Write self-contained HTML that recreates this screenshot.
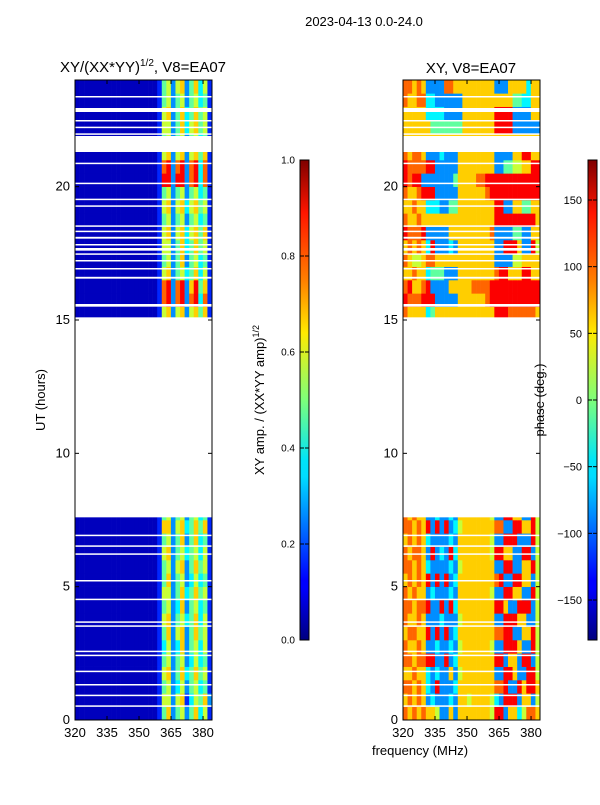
<!DOCTYPE html>
<html><head><meta charset="utf-8">
<style>
body{margin:0;background:#fff;}
svg text{font-family:"Liberation Sans",sans-serif;fill:#000;}
</style></head>
<body>
<svg id="fig" width="600" height="800" viewBox="0 0 600 800" xmlns="http://www.w3.org/2000/svg">
<defs>
<linearGradient id="jet" x1="0" y1="1" x2="0" y2="0">
<stop offset="0" stop-color="#00007f"/><stop offset="0.11" stop-color="#0000ff"/><stop offset="0.125" stop-color="#0000ff"/>
<stop offset="0.34" stop-color="#00dcff"/><stop offset="0.375" stop-color="#00e5f8"/><stop offset="0.5" stop-color="#7dff7a"/>
<stop offset="0.64" stop-color="#ffea00"/><stop offset="0.75" stop-color="#ff7f00"/><stop offset="0.89" stop-color="#ff1500"/>
<stop offset="1" stop-color="#7f0000"/>
</linearGradient>
</defs>
<text x="364" y="26" font-size="13" text-anchor="middle">2023-04-13 0.0-24.0</text>
<text x="143" y="72" font-size="15" text-anchor="middle">XY/(XX*YY)<tspan font-size="10" dy="-6">1/2</tspan><tspan dy="6">, V8=EA07</tspan></text>
<text x="471" y="73" font-size="15" text-anchor="middle">XY, V8=EA07</text>
<g id="left"></g>
<g id="right"></g>
<text transform="translate(45,400) rotate(-90)" font-size="13" text-anchor="middle">UT (hours)</text>
<text x="420" y="755" font-size="13" text-anchor="middle">frequency (MHz)</text>
<rect x="300" y="160" width="9" height="480" fill="url(#jet)" stroke="#000" stroke-width="1"/>
<rect x="588" y="160" width="9" height="480" fill="url(#jet)" stroke="#000" stroke-width="1"/>
<text transform="translate(264,400) rotate(-90)" font-size="13" text-anchor="middle">XY amp. / (XX*YY amp)<tspan font-size="9" dy="-5">1/2</tspan></text>
<text transform="translate(544,400) rotate(-90)" font-size="13" text-anchor="middle">phase (deg.)</text>
<g id="cbticks"></g>
</svg>
<script>
const tMin = 0, tMax = 24, fMin = 320, fMax = 384.2;
const yTicks = [0, 5, 10, 15, 20];
const xTicks = [320, 335, 350, 365, 380];
const ampTicks = ["0.0","0.2","0.4","0.6","0.8","1.0"];
const phaseTicks = [-150,-100,-50,0,50,100,150];
const nCols = 30, rowHours = 0.5;
const ampRows = [
"0000000000000000001"+"46245246351","0000000000000000001"+"55256135462","0000000000000000001"+"45235245341","0000000000000000001"+"56246346451",
"0000000000000000001"+"45245235341","0000000000000000001"+"35236245351","0000000000000000001"+"46256246451","0000000000000000001"+"56245346351",
"0000000000000000001"+"45236245341","0000000000000000001"+"55246346451","0000000000000000001"+"46245235341","0000000000000000001"+"45256246451",
"0000000000000000001"+"56245345351","0000000000000000001"+"45246246341","0000000000000000001"+"66256346461","0000000000000000001"+"45245245341",
"-","-","-","-","-","-","-","-","-","-","-","-","-","-",
"0000000000000000001"+"56256256461","0000000000000000001"+"78278278371","0000000000000000001"+"78278268461","0000000000000000001"+"56245346351",
"0000000000000000001"+"45246245341","0000000000000000001"+"55246346451","0000000000000000001"+"56256356461","0000000000000000001"+"45245245341",
"0000000000000000001"+"56256356451","0000000000000000001"+"45245245341","0000000000000000001"+"88288278371","0000000000000000001"+"78278278371",
"0000000000000000001"+"56256256461","0000000000000000001"+"45245245341","0000000000000000001"+"55246356451","0000000000000000001"+"56246346451",
"0000000000000000001"+"45245245341","0000000000000000001"+"45256246351"];
const phaseRows = [
"767676652262666666658826635776","676762322232665666653288826625","776763282223666666667782286886","667663232262566666662288622885",
"776778822823666666668826628825","766762232232566666652288862285","677668282823666666667788226685","766762223222566666662288866225",
"776778228283666666668862288825","767662322232666666652288662285","676768282823666666667822886625","776763222232566666662288226685",
"767762823283666666658866228825","676763222232666666652288822285","776768282823566666667722886685","767662232232666666652288662285",
"-","-","-","-","-","-","-","-","-","-","-","-","-","-",
"766663466666666666668887777776","877788822222666666788888888888","786678222266666777788888888888","667663444222666666667886668866",
"765567766666666666662222556666","676763822232666666662288862285","877782222266666666672222442266","766766666666666666668888888886",
"667663332244666666668822664466","766788822222666666788888888888","878822222224666677888888888888","877778822222666666662244556688",
"767762223222666666662222668866","666666666666666666666666666666","666666444444466666668888222222","666663333222266666668888222266",
"766773322222266666666666443366","776762222776666666662226666366"];
const gaps = [[7.6,15.0],[21.3,21.9],[22.8,22.95],[23.35,23.4],[22.45,22.5],[22.2,22.25],[21.95,22.0],[20.85,20.9],[20.1,20.15],[19.5,19.55],[19.25,19.3],[18.5,18.55],[18.3,18.35],[18.05,18.12],[17.8,17.85],[17.6,17.7],[17.45,17.5],[17.2,17.25],[16.9,16.95],[16.55,16.62],[15.5,15.6],[15.0,15.1],[6.9,6.95],[6.5,6.55],[6.2,6.25],[5.2,5.25],[4.5,4.55],[3.65,3.7],[3.5,3.55],[2.55,2.6],[2.4,2.45],[1.8,1.85],[1.3,1.35],[0.9,0.95],[0.5,0.55]];

const NS="http://www.w3.org/2000/svg";
function jet(v){
  const r=Math.min(Math.max(Math.min(4*v-1.5,-4*v+4.5),0),1);
  const g=Math.min(Math.max(Math.min(4*v-0.5,-4*v+3.5),0),1);
  const b=Math.min(Math.max(Math.min(4*v+0.5,-4*v+2.5),0),1);
  return `rgb(${Math.round(r*255)},${Math.round(g*255)},${Math.round(b*255)})`;
}
function mk(tag,attrs,parent){const e=document.createElementNS(NS,tag);for(const k in attrs)e.setAttribute(k,attrs[k]);parent.appendChild(e);return e;}
function drawPanel(g,x0,rows){
  const W=137,y0=80,H=640;
  const xS=f=>x0+(f-fMin)/(fMax-fMin)*W;
  const yS=t=>y0+H-(t-tMin)/(tMax-tMin)*H;
  const cw=(fMax-fMin)/nCols;
  rows.forEach((row,ri)=>{
    if(row==="-")return;
    for(let c=0;c<nCols;c++){
      const v=0.06+parseInt(row[c])/9*0.92;
      const x1=xS(fMin+c*cw),x2=xS(fMin+(c+1)*cw);
      const ya=yS((ri+1)*rowHours),yb=yS(ri*rowHours);
      const r=mk('rect',{x:x1,y:ya,width:x2-x1+0.3,height:yb-ya+0.3,fill:jet(v)},g);
      
      
    }
  });
  gaps.forEach(gp=>{
    const r=mk('rect',{x:x0,y:yS(gp[1]),width:W,height:Math.max(yS(gp[0])-yS(gp[1]),1.5),fill:'#fff'},g);
    
    
  });
  const fr=mk('rect',{x:x0,y:y0,width:W,height:H,fill:'none',stroke:'#000','stroke-width':1},g);
  
  
  yTicks.forEach(t=>{
    const y=yS(t);
    mk('line',{x1:x0,x2:x0+4,y1:y,y2:y,stroke:'#000'},g);
    mk('line',{x1:x0+W,x2:x0+W-4,y1:y,y2:y,stroke:'#000'},g);
    const tx=mk('text',{x:x0-5,y:y+4,'font-size':13,'text-anchor':'end'},g);
    tx.textContent=t;
    
    
  });
  xTicks.forEach(f=>{
    const x=xS(f);
    mk('line',{x1:x,x2:x,y1:y0+H,y2:y0+H-4,stroke:'#000'},g);
    mk('line',{x1:x,x2:x,y1:y0,y2:y0+4,stroke:'#000'},g);
    const tx=mk('text',{x:x,y:y0+H+17,'font-size':13,'text-anchor':'middle'},g);
    tx.textContent=f;
    
    
  });
}
drawPanel(document.getElementById('left'),75,ampRows);
drawPanel(document.getElementById('right'),403,phaseRows);
const cb=document.getElementById('cbticks');
ampTicks.forEach((l,i)=>{
  const y=640-i/(ampTicks.length-1)*480;
  mk('line',{x1:300,x2:304,y1:y,y2:y,stroke:'#000'},cb);
  mk('line',{x1:309,x2:305,y1:y,y2:y,stroke:'#000'},cb);
  const t=mk('text',{x:295,y:y+3.5,'font-size':10,'text-anchor':'end'},cb);
  t.textContent=l;
  
  
});
phaseTicks.forEach(v=>{
  const y=640-(v+180)/360*480;
  mk('line',{x1:588,x2:592,y1:y,y2:y,stroke:'#000'},cb);
  mk('line',{x1:597,x2:593,y1:y,y2:y,stroke:'#000'},cb);
  const t=mk('text',{x:582,y:y+4,'font-size':11,'text-anchor':'end'},cb);
  t.textContent=v<0?'\u2212'+(-v):v;
  
  
});
</script>
</body></html>
